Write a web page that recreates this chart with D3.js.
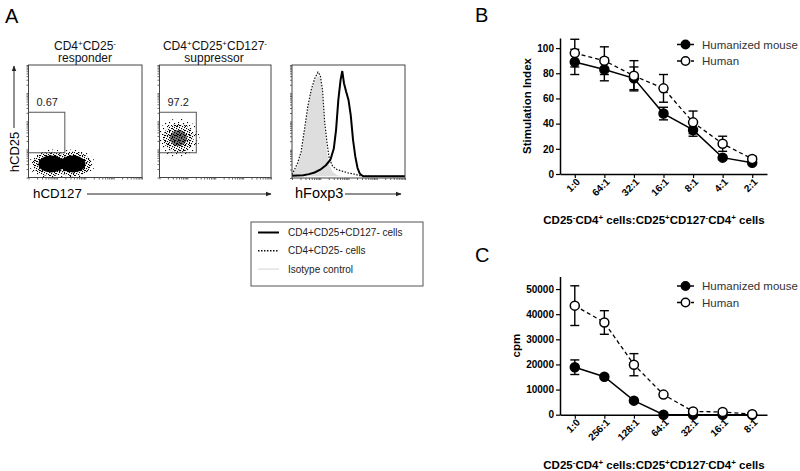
<!DOCTYPE html>
<html>
<head>
<meta charset="utf-8">
<script src="https://cdn.jsdelivr.net/npm/d3@7"></script>
<style>
  body { margin: 0; background: #fff; }
  svg text { font-family: Arial, "Liberation Sans", sans-serif; }
</style>
</head>
<body>
<div id="chart"></div>
<script>
// ---- panel B : stimulation index ----
const ratiosB = ["1:0", "64:1", "32:1", "16:1", "8:1", "4:1", "2:1"];
const siHumanized = [89, 83, 76, 48, 35, 13, 9];
const siHumanizedErr = [10, 9, 9, 5, 5, 1, 1];
const siHuman = [96, 90, 78, 68, 41, 24, 12];
const siHumanErr = [11, 11, 12, 11, 9, 6, 2];
const siTicks = [0, 20, 40, 60, 80, 100];

// ---- panel C : cpm ----
const ratiosC = ["1:0", "256:1", "128:1", "64:1", "32:1", "16:1", "8:1"];
const cpmHumanized = [18900, 15100, 5600, 0, 0, 0, 0];
const cpmHumanizedErr = [2900, 0, 0, 0, 0, 0, 0];
const cpmHuman = [43400, 36700, 19900, 8000, 1300, 1100, 200];
const cpmHumanErr = [7900, 4700, 4400, 0, 0, 0, 0];
const cpmTicks = [0, 10000, 20000, 30000, 40000, 50000];

// ---- panel A : flow plots (channel units 0-100) ----
const responderGate = {x0: 0, x1: 32, y0: 22, y1: 58, label: "0.67"};
const suppressorGate = {x0: 0, x1: 33, y0: 22, y1: 58, label: "97.2"};
const responderClouds = [{cx: 20, cy: 12, rx: 15, ry: 10}, {cx: 39, cy: 12, rx: 15, ry: 10}];
const suppressorClouds = [{cx: 17, cy: 35, rx: 13, ry: 12}];

// Foxp3 histograms (% of max)
const foxp3Channel = [0, 5, 8, 11, 14, 17, 20, 23, 25, 27, 29, 31, 33, 36, 40, 45, 50, 55, 60, 70, 100];
const foxp3Isotype = [1, 10, 20, 40, 60, 76, 86, 91, 88, 72, 42, 22, 10, 4, 1, 0, 0, 0, 0, 0, 0];
const foxp3Responder = [1.5, 12, 22, 42, 63, 78, 88, 94, 91, 78, 48, 30, 16, 9, 6, 4.5, 3, 2, 0.6, 0, 0];
const foxp3TregChannel = [0, 10, 15, 20, 25, 30, 34, 37, 39, 41, 43, 44.5, 46, 48, 50, 52, 54, 56, 58, 60, 63, 100];
const foxp3Treg = [0.5, 1, 2, 3.5, 6, 10, 15, 25, 42, 69, 87, 95, 84, 76, 69, 55, 33, 18, 7.5, 2.4, 0, 0];

const histLegend = ["CD4+CD25+CD127- cells", "CD4+CD25- cells", "Isotype control"];
const seriesNames = ["Humanized mouse", "Human"];

const svg = d3.select("#chart").append("svg")
    .attr("width", 800)
    .attr("height", 471);

const defs = svg.append("defs");

function speck(id, size, pts) {
    const p = defs.append("pattern").attr("id", id)
        .attr("width", size).attr("height", size)
        .attr("patternUnits", "userSpaceOnUse");
    pts.forEach(function(d) {
        p.append("rect").attr("x", d[0]).attr("y", d[1])
            .attr("width", 1.1).attr("height", 1.1).attr("fill", "#000");
    });
}
speck("speckSparse", 9, [[1, 2], [5, 0], [7, 5], [3, 6], [0, 8], [6, 8]]);
speck("speckDense", 5, [[0, 0], [2, 1], [4, 2], [1, 3], [3, 4], [4, 0]]);

defs.append("marker").attr("id", "arrow")
    .attr("viewBox", "0 0 10 10").attr("refX", 9).attr("refY", 5)
    .attr("markerWidth", 6).attr("markerHeight", 6).attr("orient", "auto")
    .append("path").attr("d", "M0,1L10,5L0,9Z").attr("fill", "#222");

// text with superscripts
function richText(sel, parts, supSize) {
    parts.forEach(function(p) {
        if (p[1]) {
            sel.append("tspan").attr("dy", -4).attr("font-size", supSize).text(p[0]);
        } else {
            sel.append("tspan").attr("dy", sel.node().lastChild ? 4 : 0).text(p[0]);
        }
    });
}

// panel letters
svg.append("text").attr("x", 5).attr("y", 23).attr("font-size", 20).text("A");
svg.append("text").attr("x", 475).attr("y", 22).attr("font-size", 20).text("B");
svg.append("text").attr("x", 475).attr("y", 262).attr("font-size", 20).text("C");

// ================= panel A =================
function flowFrame(x0, x1, y0, y1) {
    const x = d3.scaleLinear([0, 100], [x0, x1]);
    const y = d3.scaleLinear([0, 100], [y1, y0]);
    const g = svg.append("g");
    const lx = d3.scaleLog([1, 1e4], [x0, x1]);
    const ly = d3.scaleLog([1, 1e4], [y1, y0]);
    g.append("g").attr("transform", `translate(0,${y1})`)
        .call(d3.axisBottom(lx).tickSize(2).tickFormat(""))
        .call(a => a.select(".domain").remove())
        .selectAll("line").attr("stroke", "#666");
    g.append("g").attr("transform", `translate(${x0},0)`)
        .call(d3.axisLeft(ly).tickSize(2).tickFormat(""))
        .call(a => a.select(".domain").remove())
        .selectAll("line").attr("stroke", "#666");
    const clipId = "clip" + Math.round(x0);
    defs.append("clipPath").attr("id", clipId)
        .append("rect").attr("x", x0).attr("y", y0).attr("width", x1 - x0).attr("height", y1 - y0);
    const inner = g.append("g").attr("clip-path", `url(#${clipId})`);
    g.append("rect").attr("x", x0).attr("y", y0).attr("width", x1 - x0).attr("height", y1 - y0)
        .attr("fill", "none").attr("stroke", "#444").attr("stroke-width", 1);
    return {g: g, inner: inner, x: x, y: y};
}

function drawClouds(p, clouds, solidCore) {
    const layers = solidCore
        ? [[1.3, "url(#speckSparse)", 1], [1.08, "url(#speckDense)", 1], [0.75, "#000", 1]]
        : [[1.45, "url(#speckSparse)", 1], [1.05, "url(#speckDense)", 1], [0.6, "#000", 0.55]];
    layers.forEach(function(l) {
        p.inner.selectAll(null).data(clouds).enter().append("ellipse")
            .attr("cx", d => p.x(d.cx)).attr("cy", d => p.y(d.cy))
            .attr("rx", d => (p.x(d.rx) - p.x(0)) * l[0])
            .attr("ry", d => (p.y(0) - p.y(d.ry)) * l[0])
            .attr("fill", l[1]).attr("opacity", l[2]);
    });
}

function drawGate(p, gate) {
    p.inner.append("rect")
        .attr("x", p.x(gate.x0)).attr("y", p.y(gate.y1))
        .attr("width", p.x(gate.x1) - p.x(gate.x0))
        .attr("height", p.y(gate.y0) - p.y(gate.y1))
        .attr("fill", "none").attr("stroke", "#555").attr("stroke-width", 1);
    p.g.append("text").attr("x", p.x(gate.x0) + 8).attr("y", p.y(gate.y1) - 6)
        .attr("font-size", 11).attr("fill", "#222").text(gate.label);
}

const p1 = flowFrame(28.5, 142, 65, 177.5);
drawClouds(p1, responderClouds, true);
drawGate(p1, responderGate);

const p2 = flowFrame(159.5, 271, 65, 177.5);
drawClouds(p2, suppressorClouds, false);
drawGate(p2, suppressorGate);

// titles
function title(x, y) {
    return svg.append("text").attr("x", x).attr("y", y)
        .attr("font-size", 12).attr("text-anchor", "middle").attr("fill", "#111");
}
richText(title(85, 46), [["CD4", 0], ["+", 1], ["CD25", 0], ["-", 1]], 8);
title(85, 62).text("responder");
richText(title(215, 46), [["CD4", 0], ["+", 1], ["CD25", 0], ["+", 1], ["CD127", 0], ["-", 1]], 8);
title(214, 62).text("suppressor");

// histogram
const p3 = flowFrame(292, 405, 65, 178);
const hy = d3.scaleLinear([-1.5, 100], [178, 65.5]);
const isoArea = d3.area().x((d, i) => p3.x(foxp3Channel[i])).y0(hy(0)).y1(d => hy(d));
p3.inner.append("path").datum(foxp3Isotype).attr("d", isoArea).attr("fill", "#dedede");
const respLine = d3.line().x((d, i) => p3.x(foxp3Channel[i])).y(d => hy(d));
p3.inner.append("path").datum(foxp3Responder).attr("d", respLine)
    .attr("fill", "none").attr("stroke", "#111").attr("stroke-width", 1.2).attr("stroke-dasharray", "1.5,1.5");
const tregLine = d3.line().x((d, i) => p3.x(foxp3TregChannel[i])).y(d => hy(d));
p3.inner.append("path").datum(foxp3Treg).attr("d", tregLine)
    .attr("fill", "none").attr("stroke", "#000").attr("stroke-width", 2);

// axis arrows and labels
svg.append("line").attr("x1", 14).attr("y1", 128).attr("x2", 14).attr("y2", 66)
    .attr("stroke", "#222").attr("stroke-width", 1).attr("marker-end", "url(#arrow)");
svg.append("text").attr("transform", "translate(18.5,152) rotate(-90)")
    .attr("font-size", 13).attr("text-anchor", "middle").text("hCD25");
svg.append("text").attr("x", 33).attr("y", 198).attr("font-size", 13.3).text("hCD127");
svg.append("line").attr("x1", 87).attr("y1", 194).attr("x2", 271).attr("y2", 194)
    .attr("stroke", "#222").attr("stroke-width", 1).attr("marker-end", "url(#arrow)");
svg.append("text").attr("x", 295).attr("y", 198).attr("font-size", 14.5).text("hFoxp3");
svg.append("line").attr("x1", 345).attr("y1", 194).attr("x2", 401).attr("y2", 194)
    .attr("stroke", "#222").attr("stroke-width", 1).attr("marker-end", "url(#arrow)");

// histogram legend
const lg = svg.append("g");
lg.append("rect").attr("x", 251).attr("y", 222).attr("width", 172).attr("height", 64)
    .attr("fill", "#fff").attr("stroke", "#555").attr("stroke-width", 1);
const legStyles = [["#000", 2, null], ["#111", 1.5, "1.5,1.5"], ["#e2e2e2", 1.5, null]];
histLegend.forEach(function(name, i) {
    const yy = 232.5 + i * 18.3;
    lg.append("line").attr("x1", 258).attr("x2", 279).attr("y1", yy).attr("y2", yy)
        .attr("stroke", legStyles[i][0]).attr("stroke-width", legStyles[i][1])
        .attr("stroke-dasharray", legStyles[i][2]);
    lg.append("text").attr("x", 288).attr("y", yy).attr("dy", "0.35em")
        .attr("font-size", 10).attr("fill", "#222").text(name);
});

// ================= panels B and C =================
const ratioTitle = [["CD25", 0], ["-", 1], ["CD4", 0], ["+", 1], [" cells:CD25", 0], ["+", 1],
    ["CD127", 0], ["-", 1], ["CD4", 0], ["+", 1], [" cells", 0]];

function ratioPanel(cats, hz, hzErr, hu, huErr, yMax, yTicks, yTop, yBottom, yLabel, yLabelX, titleY, legendY) {
    const g = svg.append("g");
    const x = d3.scalePoint(cats, [560, 767]).padding(0.5);
    const y = d3.scaleLinear([0, yMax], [yBottom, yTop]);

    const ax = g.append("g").attr("transform", `translate(0,${yBottom})`)
        .call(d3.axisBottom(x).tickSize(4).tickSizeOuter(0));
    ax.selectAll("text").attr("transform", "translate(3,6) rotate(-45)")
        .attr("x", 0).attr("y", 0).attr("dy", "0.35em")
        .style("text-anchor", "end").attr("font-size", 10).attr("font-weight", "bold");
    const ay = g.append("g").attr("transform", "translate(560,0)")
        .call(d3.axisLeft(y).tickValues(yTicks).tickFormat(d3.format("d"))
            .tickSize(4).tickPadding(2).tickSizeOuter(0));
    ay.selectAll("text").attr("font-size", 10).attr("font-weight", "bold");
    g.selectAll(".domain").attr("stroke-width", 1.5);
    g.selectAll(".tick line").attr("stroke-width", 1.2);

    g.append("text").attr("transform", `translate(${yLabelX},${(yTop + yBottom) / 2}) rotate(-90)`)
        .attr("text-anchor", "middle").attr("font-size", 11.5).attr("font-weight", "bold").text(yLabel);
    const tt = g.append("text").attr("x", 654).attr("y", titleY)
        .attr("text-anchor", "middle").attr("font-size", 11.5).attr("font-weight", "bold");
    richText(tt, ratioTitle, 8);

    const series = [
        {vals: hz, err: hzErr, dash: null, fill: "#000", width: 1.5},
        {vals: hu, err: huErr, dash: "4,3", fill: "#fff", width: 1.3}
    ];
    series.forEach(function(s) {
        const line = d3.line().x((d, i) => x(cats[i])).y(d => y(d));
        g.append("path").datum(s.vals).attr("d", line).attr("fill", "none")
            .attr("stroke", "#000").attr("stroke-width", s.width).attr("stroke-dasharray", s.dash);
    });
    series.forEach(function(s) {
        s.vals.forEach(function(v, i) {
            if (!s.err[i]) return;
            const cx = x(cats[i]);
            const eg = g.append("g").attr("stroke", "#000").attr("stroke-width", 1.4);
            eg.append("line").attr("x1", cx).attr("x2", cx).attr("y1", y(v - s.err[i])).attr("y2", y(v + s.err[i]));
            [v - s.err[i], v + s.err[i]].forEach(function(e) {
                eg.append("line").attr("x1", cx - 4.5).attr("x2", cx + 4.5).attr("y1", y(e)).attr("y2", y(e));
            });
        });
    });
    series.forEach(function(s) {
        g.selectAll(null).data(s.vals).enter().append("circle")
            .attr("cx", (d, i) => x(cats[i])).attr("cy", d => y(d)).attr("r", 4.5)
            .attr("fill", s.fill).attr("stroke", "#000").attr("stroke-width", 1.5);
    });

    // legend
    seriesNames.forEach(function(name, i) {
        const ly = legendY + i * 16.5;
        g.append("line").attr("x1", 677).attr("x2", 694).attr("y1", ly).attr("y2", ly)
            .attr("stroke", "#000").attr("stroke-width", 1.5).attr("stroke-dasharray", series[i].dash);
        g.append("circle").attr("cx", 685.5).attr("cy", ly).attr("r", 4.2)
            .attr("fill", series[i].fill).attr("stroke", "#000").attr("stroke-width", 1.5);
        g.append("text").attr("x", 702).attr("y", ly).attr("dy", "0.35em")
            .attr("font-size", 11.5).attr("fill", "#333").text(name);
    });
}

ratioPanel(ratiosB, siHumanized, siHumanizedErr, siHuman, siHumanErr, 108, siTicks, 38, 174,
    "Stimulation Index", 531, 220, 44.5);
ratioPanel(ratiosC, cpmHumanized, cpmHumanizedErr, cpmHuman, cpmHumanErr, 55000, cpmTicks, 276.5, 414.7,
    "cpm", 520, 465, 286);
</script>
</body>
</html>
